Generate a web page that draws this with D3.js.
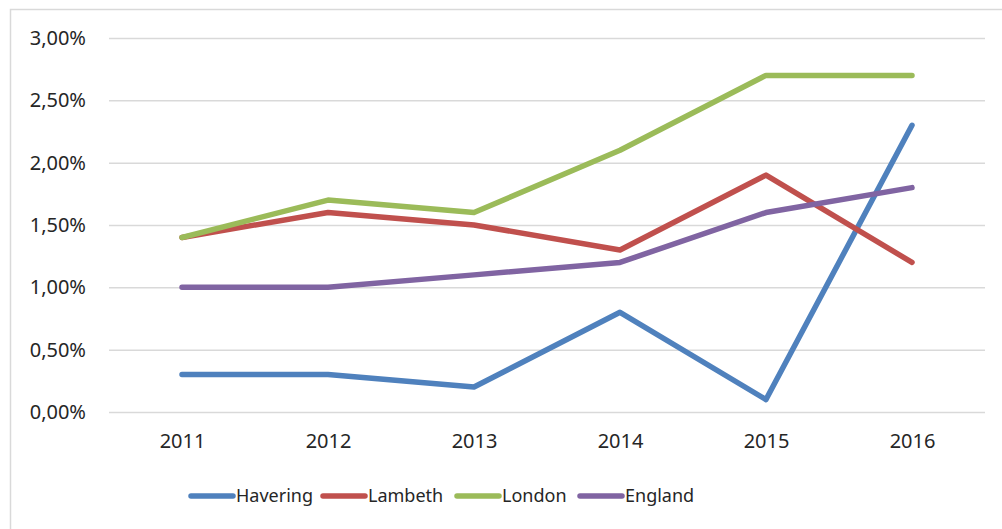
<!DOCTYPE html>
<html><head><meta charset="utf-8">
<script src="https://cdn.jsdelivr.net/npm/d3@7"></script>
<style>body{margin:0;background:#fff}svg{display:block}</style>
</head><body>
<svg id="c" width="1002" height="529"></svg>
<script>
const years = ["2011","2012","2013","2014","2015","2016"];
const yTicks = [0,0.5,1,1.5,2,2.5,3];
const seriesNames = ["Havering","Lambeth","London","England"];
const seriesColors = ["#4F81BD","#C0504D","#9BBB59","#8064A2"];
const havering = [0.3,0.3,0.2,0.8,0.1,2.3];
const lambeth = [1.4,1.6,1.5,1.3,1.9,1.2];
const london = [1.4,1.7,1.6,2.1,2.7,2.7];
const england = [1.0,1.0,1.1,1.2,1.6,1.8];
const seriesValues = [havering,lambeth,london,england];

const svg = d3.select("#c");
const font = "'Noto Sans', sans-serif";
svg.append("rect").attr("x",10.5).attr("y",9.5).attr("width",1000).attr("height",530)
  .attr("fill","#fff").attr("stroke","#d9d9d9").attr("stroke-width",1.5);

const x = d3.scalePoint().domain(years).range([109,985]).padding(0.5);
const y = d3.scaleLinear().domain([0,3]).range([412,38]);

const fmt = v => v.toFixed(2).replace(".",",")+"%";
const yAxis = svg.append("g").attr("transform","translate(109,0)")
  .call(d3.axisLeft(y).tickValues(yTicks).tickSize(-876).tickFormat(fmt));
yAxis.select(".domain").remove();
yAxis.selectAll(".tick line").attr("stroke","#d9d9d9").attr("stroke-width",1.5);
yAxis.selectAll(".tick text").attr("x",-23).attr("fill","#262626")
  .style("font-family",font).style("font-size","20px");

const xAxis = svg.append("g").attr("transform","translate(0,412)")
  .call(d3.axisBottom(x).tickSize(0).tickPadding(22));
xAxis.select(".domain").remove();
xAxis.selectAll(".tick text").attr("fill","#262626")
  .style("font-family",font).style("font-size","20px");

const line = d3.line().x((d,i)=>x(years[i])).y(d=>y(d));
seriesValues.forEach((vals,k)=>{
  svg.append("path").datum(vals).attr("d",line).attr("fill","none")
    .attr("stroke",seriesColors[k]).attr("stroke-width",5.5)
    .attr("stroke-linecap","round").attr("stroke-linejoin","round");
});

const legendX = [191,323,457,580];
const lg = svg.append("g");
seriesNames.forEach((n,k)=>{
  const g = lg.append("g").attr("transform",`translate(${legendX[k]},496)`);
  g.append("line").attr("x1",0).attr("x2",42).attr("y1",0).attr("y2",0)
    .attr("stroke",seriesColors[k]).attr("stroke-width",5.5).attr("stroke-linecap","round");
  g.append("text").attr("x",45).attr("y",0).attr("dy","0.35em").attr("fill","#262626")
    .style("font-family",font).style("font-size","18px").text(n);
});
</script>
</body></html>
